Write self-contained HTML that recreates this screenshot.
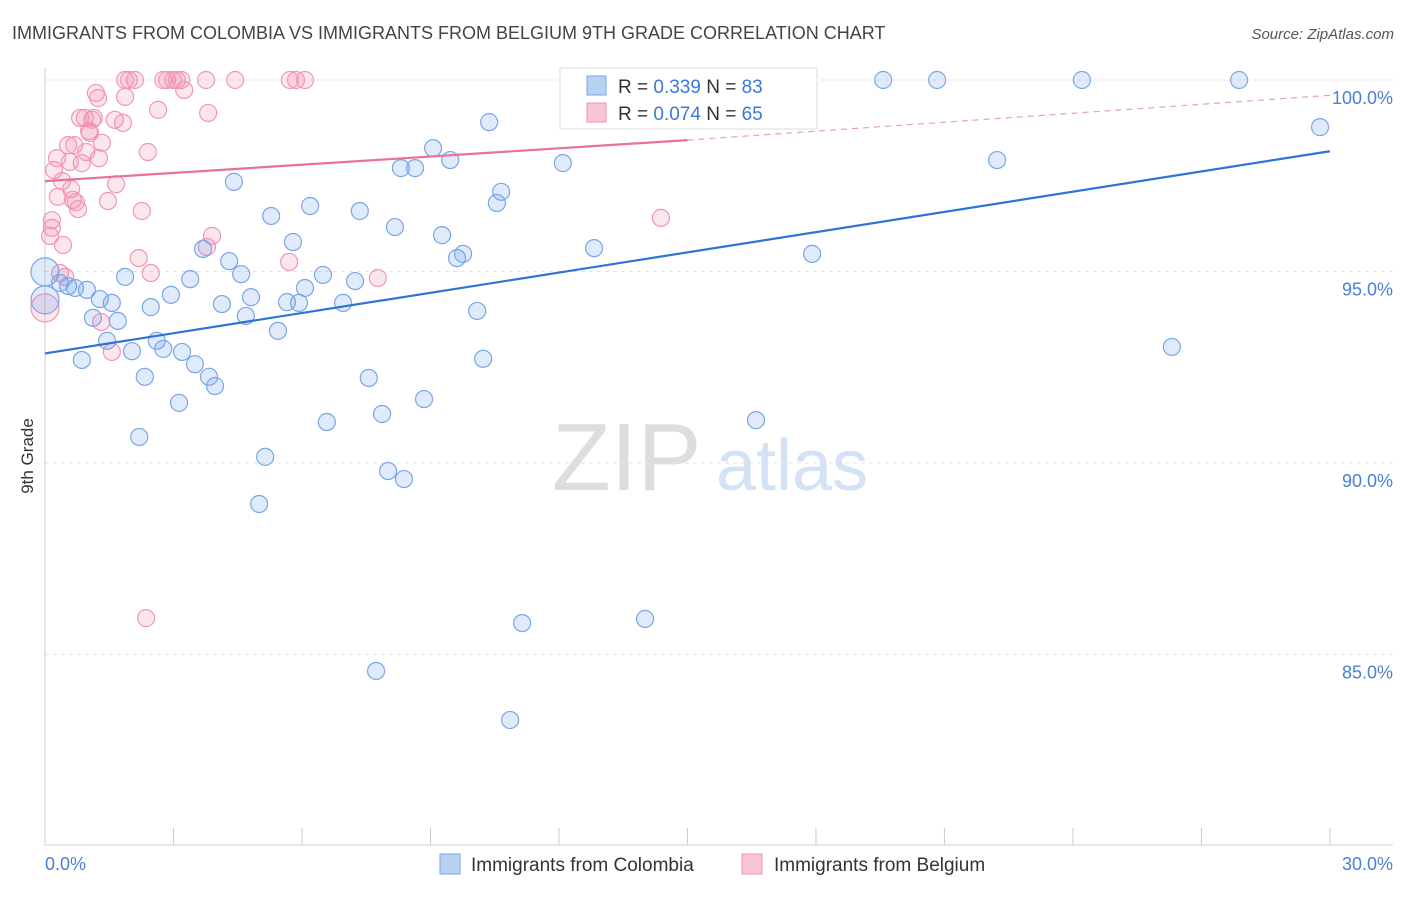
<!DOCTYPE html>
<html><head><meta charset="utf-8"><style>
body{margin:0;background:#fff;font-family:"Liberation Sans",sans-serif;}
svg text{font-family:"Liberation Sans",sans-serif;}
</style></head><body>
<svg id="chart" width="1406" height="892" xmlns="http://www.w3.org/2000/svg">
<text x="12" y="39" font-size="18" fill="#444">IMMIGRANTS FROM COLOMBIA VS IMMIGRANTS FROM BELGIUM 9TH GRADE CORRELATION CHART</text>
<text x="1394" y="39" font-size="15" fill="#555" text-anchor="end" font-style="italic">Source: ZipAtlas.com</text>
<g>
<text x="552" y="490" font-size="96" fill="#ddd" font-family="Liberation Serif">ZIP</text>
<text x="716" y="490" font-size="72" fill="#d3e2f5">atlas</text>
</g>
<g id="grid"></g>
<g id="axes"></g>
<g id="marks"></g>
<g id="trends"></g>
<text transform="translate(33,456) rotate(-90)" font-size="17" fill="#333" text-anchor="middle">9th Grade</text>
<g>
<rect x="560" y="68" width="257" height="61" fill="#fff" stroke="#ddd"/>
<rect x="587" y="76" width="19" height="19" fill="#b8d1f3" stroke="#7aa6e6"/>
<text x="618" y="93" font-size="19" fill="#333">R = <tspan fill="#3b78d8">0.339</tspan>   N = <tspan fill="#3b78d8">83</tspan></text>
<rect x="587" y="103" width="19" height="19" fill="#f9c4d6" stroke="#f08fb0"/>
<text x="618" y="120" font-size="19" fill="#333">R = <tspan fill="#3b78d8">0.074</tspan>   N = <tspan fill="#3b78d8">65</tspan></text>
</g>
<g>
<rect x="440" y="854" width="20" height="20" fill="#b8d1f3" stroke="#7aa6e6"/>
<text x="471" y="871" font-size="19" fill="#333">Immigrants from Colombia</text>
<rect x="742" y="854" width="20" height="20" fill="#f9c4d6" stroke="#f08fb0"/>
<text x="774" y="871" font-size="19" fill="#333">Immigrants from Belgium</text>
</g>
</svg>
<script>
const yTicks=[100,95,90,85];
const yTickLabels=["100.0%","95.0%","90.0%","85.0%"];
const xTicks=[0,3,6,9,12,15,18,21,24,27,30];
const blueX=[0,0,0.35,0.54,0.70,0.98,0.86,1.12,1.28,1.56,1.45,1.70,1.87,2.03,2.20,2.33,2.47,2.61,2.76,2.94,3.13,3.20,3.39,3.50,3.69,3.83,3.97,4.13,4.30,4.41,4.58,4.69,4.81,5.00,5.14,5.28,5.44,5.65,5.79,5.93,6.07,6.19,6.49,6.58,6.96,7.24,7.35,7.56,7.87,8.01,8.17,8.38,8.31,8.64,8.85,9.06,9.27,9.46,9.62,9.76,10.09,10.23,10.37,10.55,10.65,10.86,11.14,12.09,12.82,14.01,14.48,15.29,16.60,17.91,19.57,20.83,22.23,24.21,26.31,27.88,29.77,7.73];
const blueY=[94.99,94.26,94.70,94.62,94.57,94.52,92.69,93.79,94.28,94.18,93.19,93.71,94.86,92.92,90.68,92.25,94.07,93.19,92.98,94.39,91.57,92.90,94.80,92.58,95.59,92.25,92.01,94.15,95.27,97.34,94.93,93.84,94.33,88.93,90.16,96.45,93.45,94.20,95.77,94.18,94.57,96.71,94.91,91.07,94.18,94.75,96.58,92.22,91.28,89.79,96.16,89.58,97.70,97.70,91.67,98.22,95.95,97.91,95.35,95.46,93.97,92.72,98.90,96.79,97.08,83.29,85.82,97.83,95.61,85.93,100,100,91.12,95.46,100,100,97.91,100,93.03,100,98.77,84.57];
const pinkX=[0.12,0.16,0.16,0.21,0.28,0.30,0.35,0.42,0.40,0.47,0.54,0.58,0.61,0.65,0.68,0.72,0.77,0.82,0.86,0.93,0.96,1.03,1.05,1.10,1.14,1.19,1.24,1.26,1.31,1.33,1.47,1.56,1.66,1.63,1.82,1.87,1.87,1.96,2.10,2.19,2.26,2.36,2.40,2.47,2.64,2.76,2.85,2.99,3.08,3.18,3.25,3.76,3.78,3.81,3.90,4.44,5.70,5.72,5.86,6.07,7.77,14.38,0];
const pinkY=[95.93,96.14,96.34,97.65,97.96,96.95,94.96,95.69,97.36,94.86,98.30,97.86,97.15,96.87,98.30,96.81,96.63,99.01,97.83,99.01,98.12,98.67,98.62,98.96,99.01,99.66,99.53,97.96,93.68,98.36,96.84,92.90,97.28,98.96,98.88,99.56,100,100,100,95.35,96.58,85.95,98.12,94.96,99.22,100,100,100,100,100,99.74,100,95.64,99.14,95.93,100,95.25,100,100,100,94.83,96.40,94.05];
const blueTrend=[92.86,98.14];
const pinkTrend=[97.36,98.43,99.6];
const NS="http://www.w3.org/2000/svg";
const xs=v=>45+v*42.83, ys=v=>80+(100-v)*38.3;
function mk(t,a,p){const e=document.createElementNS(NS,t);for(const k in a)e.setAttribute(k,a[k]);p.appendChild(e);return e;}
const grid=document.getElementById('grid'),axes=document.getElementById('axes'),marks=document.getElementById('marks'),trends=document.getElementById('trends');
yTicks.forEach((t,i)=>{
 const l=mk('line',{x1:45,x2:1393,y1:ys(t),y2:ys(t),stroke:'#e3e3e3','stroke-dasharray':'4,4'},grid);
 
 
 const tx=mk('text',{x:1393,y:ys(t)+24,'font-size':18,fill:'#4a7fd6','text-anchor':'end'},axes);
 tx.textContent=yTickLabels[i];
 
 
});
mk('line',{x1:45,x2:45,y1:68,y2:845,stroke:'#ccc'},axes);
mk('line',{x1:45,x2:1393,y1:845,y2:845,stroke:'#ccc'},axes);
xTicks.forEach(t=>{const l=mk('line',{x1:xs(t),x2:xs(t),y1:828,y2:845,stroke:'#ccc'},axes);
 
 });
const x0=mk('text',{x:45,y:870,'font-size':18,fill:'#4a7fd6'},axes);x0.textContent='0.0%';


const x1=mk('text',{x:1393,y:870,'font-size':18,fill:'#4a7fd6','text-anchor':'end'},axes);x1.textContent='30.0%';


pinkX.forEach((v,i)=>{const c=mk('circle',{cx:xs(v),cy:ys(pinkY[i]),r:(v===0?14:8.5),fill:'rgba(242,140,176,0.22)',stroke:'#f096b6','stroke-width':1.2},marks);
 
 });
blueX.forEach((v,i)=>{const c=mk('circle',{cx:xs(v),cy:ys(blueY[i]),r:(v===0?14:8.5),fill:'rgba(110,160,230,0.22)',stroke:'#7aa6e6','stroke-width':1.2},marks);
 
 });
const bt=mk('line',{x1:xs(0),y1:ys(blueTrend[0]),x2:xs(30),y2:ys(blueTrend[1]),stroke:'#2f73d6','stroke-width':2.2},trends);


const pt=mk('line',{x1:xs(0),y1:ys(pinkTrend[0]),x2:xs(15),y2:ys(pinkTrend[1]),stroke:'#e8709a','stroke-width':2.2},trends);


const pd=mk('line',{x1:xs(15),y1:ys(pinkTrend[1]),x2:xs(30),y2:ys(pinkTrend[2]),stroke:'#e8a0b8','stroke-width':1.2,'stroke-dasharray':'6,5'},trends);


</script>
</body></html>
